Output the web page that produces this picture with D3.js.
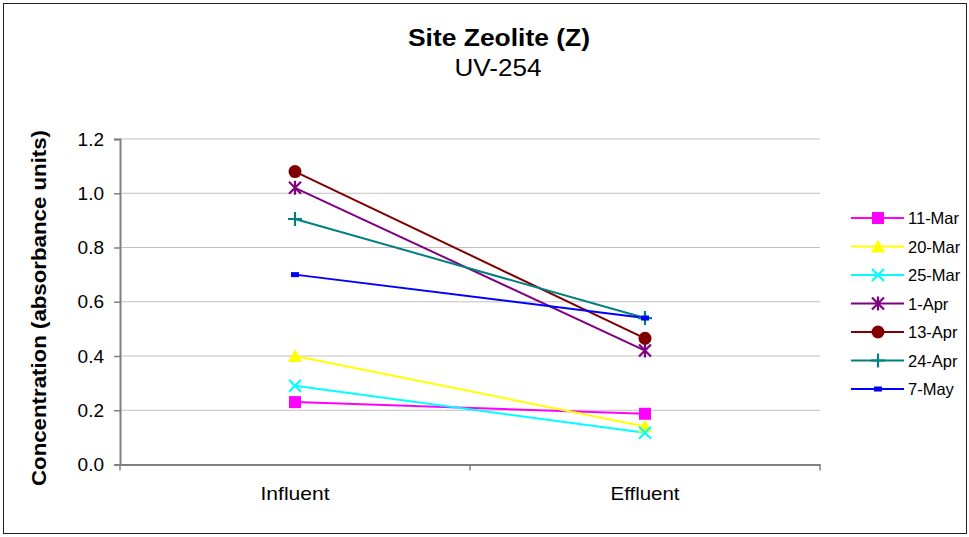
<!DOCTYPE html>
<html><head><meta charset="utf-8">
<script src="https://cdn.jsdelivr.net/npm/d3@7"></script>
<style>body{margin:0;background:#fff}svg{display:block;font-family:"Liberation Sans",Arial,sans-serif}</style>
</head><body><svg id="c" width="969" height="537"></svg>
<script>
const categories = ["Influent", "Effluent"];
const seriesNames = ["11-Mar", "20-Mar", "25-Mar", "1-Apr", "13-Apr", "24-Apr", "7-May"];
const influent = [0.23, 0.40, 0.29, 1.02, 1.08, 0.905, 0.70];
const effluent = [0.187, 0.14, 0.117, 0.42, 0.465, 0.54, 0.54];
const colors = ["#FF00FF", "#FFFF00", "#00FFFF", "#800080", "#800000", "#008080", "#0000FF"];
const markers = ["square", "triangle", "x", "star", "circle", "plus", "dash"];
const yTicks = [0, 0.2, 0.4, 0.6, 0.8, 1.0, 1.2];

const svg = d3.select("#c");
const L = 120, R = 820, T = 139, B = 464.5;
const FF = "Liberation Sans, Arial, sans-serif";

svg.append("rect").attr("x", 3.5).attr("y", 3.5).attr("width", 963).attr("height", 530)
  .attr("fill", "#fff").attr("stroke", "#222").attr("stroke-width", 1);

const x = d3.scaleBand().domain(categories).range([L, R]);
const y = d3.scaleLinear().domain([0, 1.2]).range([B, T]);

// gridlines
svg.append("g").selectAll("line").data(yTicks.filter(d => d > 0)).join("line")
  .attr("x1", L).attr("x2", R).attr("y1", d => y(d)).attr("y2", d => y(d))
  .attr("stroke", "#c0c0c0").attr("stroke-width", 1);

// y axis
const ya = svg.append("g").attr("transform", `translate(${L},0)`)
  .call(d3.axisLeft(y).tickValues(yTicks).tickFormat(d3.format(".1f")).tickSize(6).tickPadding(10));
ya.select(".domain").attr("stroke", "#808080").attr("stroke-width", 2);
ya.selectAll(".tick line").attr("stroke", "#808080").attr("stroke-width", 1.5);
ya.selectAll("text").attr("font-size", 19).attr("fill", "#000").attr("font-family", FF);

// x axis
const xa = svg.append("g").attr("transform", `translate(0,${B})`)
  .call(d3.axisBottom(x).tickSize(0).tickPadding(22));
xa.select(".domain").attr("stroke", "#808080").attr("stroke-width", 2);
xa.selectAll("text").attr("font-size", 19).attr("fill", "#000").attr("font-family", FF)
  .attr("textLength", 69).attr("lengthAdjust", "spacingAndGlyphs");
const bounds = [L, L + x.bandwidth(), R];
svg.append("g").selectAll("line").data(bounds).join("line")
  .attr("x1", d => d).attr("x2", d => d).attr("y1", B).attr("y2", B + 6)
  .attr("stroke", "#808080").attr("stroke-width", 1.5);

function drawMarker(g, type, cx, cy, color) {
  switch (type) {
    case "square":
      g.append("rect").attr("x", cx - 6).attr("y", cy - 6).attr("width", 12).attr("height", 12).attr("fill", color); break;
    case "triangle":
      g.append("path").attr("d", `M${cx},${cy - 7}L${cx + 7},${cy + 6}L${cx - 7},${cy + 6}Z`).attr("fill", color); break;
    case "x":
      g.append("path").attr("d", `M${cx - 6},${cy - 6}L${cx + 6},${cy + 6}M${cx - 6},${cy + 6}L${cx + 6},${cy - 6}`).attr("stroke", color).attr("stroke-width", 2.2).attr("fill", "none"); break;
    case "star":
      g.append("path").attr("d", `M${cx - 6},${cy - 6}L${cx + 6},${cy + 6}M${cx - 6},${cy + 6}L${cx + 6},${cy - 6}M${cx},${cy - 7}L${cx},${cy + 7}`).attr("stroke", color).attr("stroke-width", 2.2).attr("fill", "none"); break;
    case "circle":
      g.append("circle").attr("cx", cx).attr("cy", cy).attr("r", 6.5).attr("fill", color); break;
    case "plus":
      g.append("path").attr("d", `M${cx - 7},${cy}L${cx + 7},${cy}M${cx},${cy - 7}L${cx},${cy + 7}`).attr("stroke", color).attr("stroke-width", 2.2).attr("fill", "none"); break;
    case "dash":
      g.append("rect").attr("x", cx - 4).attr("y", cy - 2.5).attr("width", 8).attr("height", 5).attr("fill", color); break;
  }
}

const cx = c => x(c) + x.bandwidth() / 2;
const lineGen = d3.line().x(d => cx(d.cat)).y(d => y(d.v));

seriesNames.forEach((name, i) => {
  const pts = [{cat: categories[0], v: influent[i]}, {cat: categories[1], v: effluent[i]}];
  svg.append("path").datum(pts).attr("d", lineGen).attr("fill", "none")
    .attr("stroke", colors[i]).attr("stroke-width", 2);
});
seriesNames.forEach((name, i) => {
  const g = svg.append("g");
  drawMarker(g, markers[i], cx(categories[0]), y(influent[i]), colors[i]);
  drawMarker(g, markers[i], cx(categories[1]), y(effluent[i]), colors[i]);
});

// legend
const lg = svg.append("g");
seriesNames.forEach((name, i) => {
  const ly = 218 + i * 28.5;
  lg.append("line").attr("x1", 851).attr("x2", 904).attr("y1", ly).attr("y2", ly)
    .attr("stroke", colors[i]).attr("stroke-width", 2);
  drawMarker(lg, markers[i], 878, ly, colors[i]);
  lg.append("text").attr("x", 908).attr("y", ly + 6).attr("font-size", 16.5).attr("fill", "#000").text(name);
});

// titles
svg.append("text").attr("x", 499).attr("y", 46).attr("text-anchor", "middle")
  .attr("font-size", 24).attr("font-weight", "bold")
  .attr("textLength", 182).attr("lengthAdjust", "spacingAndGlyphs").text("Site Zeolite (Z)");
svg.append("text").attr("x", 498).attr("y", 76).attr("text-anchor", "middle")
  .attr("font-size", 23).attr("textLength", 87).attr("lengthAdjust", "spacingAndGlyphs").text("UV-254");
svg.append("text").attr("transform", `translate(46,308) rotate(-90)`)
  .attr("text-anchor", "middle").attr("font-size", 20).attr("font-weight", "bold")
  .attr("textLength", 356).attr("lengthAdjust", "spacingAndGlyphs")
  .text("Concentration (absorbance units)");
</script></body></html>
